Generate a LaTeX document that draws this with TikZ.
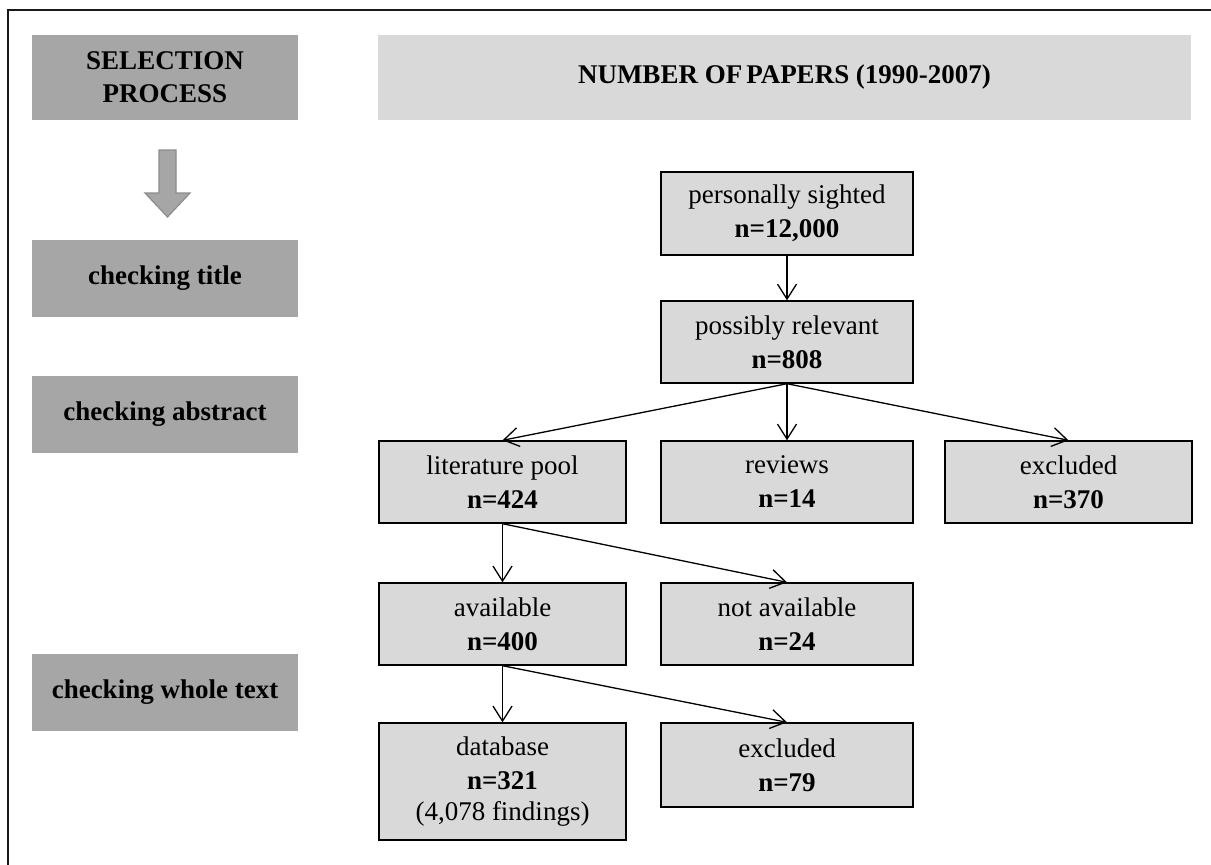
\documentclass[tikz,border=0pt]{standalone}
\usepackage{fontspec}
\setmainfont{Liberation Serif}
\usetikzlibrary{arrows.meta}
\definecolor{darkfill}{HTML}{A6A6A6}
\definecolor{lightfill}{HTML}{D9D9D9}
\definecolor{arrowedge}{HTML}{8C8C8C}
\tikzset{
  stagebox/.style={rectangle, fill=darkfill, inner sep=0pt, align=center,
    minimum width=266pt, font=\fontsize{27}{33}\selectfont\bfseries},
  countbox/.style={rectangle, draw=black, line width=1.4pt, fill=lightfill,
    inner sep=0pt, align=center, font=\fontsize{27}{34}\selectfont},
  flow/.style={line width=1.3pt, -{Straight Barb[length=15pt,width=19pt,line width=1.3pt]}}
}
\begin{document}
\begin{tikzpicture}[x=1pt,y=1pt]
\useasboundingbox (0,0) rectangle (1211,-865);
% outer frame (top and left edges)
\draw[line width=2pt, black!90] (7.5,-865) -- (7.5,-10) -- (1211,-10);

% left column: selection stages
\node[stagebox, minimum height=85pt] (sel) at (165,-77.5) {SELECTION\\PROCESS};
\node[stagebox, minimum height=77pt] (ctitle) at (165,-278.5) {checking title};
\node[stagebox, minimum height=77pt] (cabs) at (165,-414.5) {checking abstract};
\node[stagebox, minimum height=77pt] (cwhole) at (165,-692.5) {checking whole text};

% block arrow under the heading
\draw[fill=darkfill, draw=arrowedge, line width=1.2pt]
  (159,-150) -- (176,-150) -- (176,-193) -- (190,-193) -- (167.5,-217)
  -- (145,-193) -- (159,-193) -- cycle;

% header on the right
\node[rectangle, fill=lightfill, inner sep=0pt, minimum width=813pt, minimum height=85pt,
  font=\fontsize{27}{33}\selectfont\bfseries] (head) at (784.5,-77.5)
  {NUMBER OF\hspace{4pt}PAPERS (1990-2007)};

% paper counts
\node[countbox, minimum width=252pt, minimum height=83pt] (sighted) at (787,-213.5)
  {personally sighted\\\textbf{n=12,000}};
\node[countbox, minimum width=252pt, minimum height=82pt] (relevant) at (787,-342)
  {possibly relevant\\\textbf{n=808}};
\node[countbox, minimum width=247pt, minimum height=82pt] (pool) at (502.5,-482)
  {literature pool\\\textbf{n=424}};
\node[countbox, minimum width=252pt, minimum height=82pt] (reviews) at (787,-482)
  {reviews\\\textbf{n=14}};
\node[countbox, minimum width=247pt, minimum height=82pt] (excla) at (1068.5,-482)
  {excluded\\\textbf{n=370}};
\node[countbox, minimum width=247pt, minimum height=82pt] (avail) at (502.5,-624)
  {available\\\textbf{n=400}};
\node[countbox, minimum width=252pt, minimum height=82pt] (notavail) at (787,-624)
  {not available\\\textbf{n=24}};
\node[countbox, minimum width=247pt, minimum height=117pt] (db) at (502.5,-781.5)
  {database\\\textbf{n=321}\\[-3pt](4,078 findings)};
\node[countbox, minimum width=252pt, minimum height=84pt] (exclb) at (787,-765)
  {excluded\\\textbf{n=79}};

% connectors
\draw[flow] (sighted.south) -- (relevant.north);
\draw[flow] (relevant.south) -- (pool.north);
\draw[flow] (relevant.south) -- (reviews.north);
\draw[flow] (relevant.south) -- (excla.north);
\draw[flow] (pool.south) -- (avail.north);
\draw[flow] (pool.south) -- (notavail.north);
\draw[flow] (avail.south) -- (db.north);
\draw[flow] (avail.south) -- (exclb.north);
\end{tikzpicture}
\end{document}
